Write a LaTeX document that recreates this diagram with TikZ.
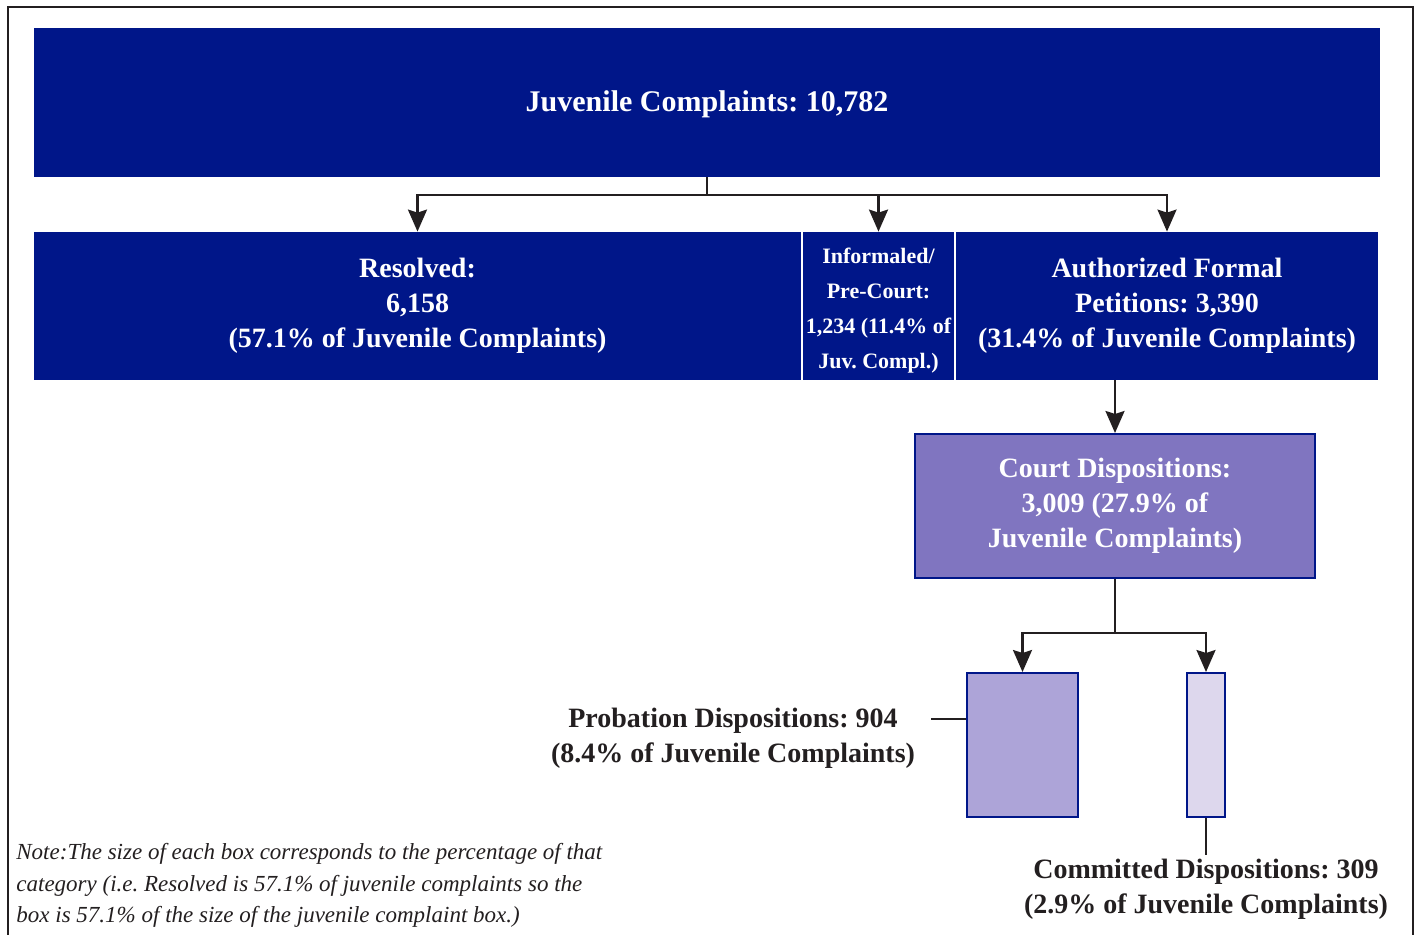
\documentclass[tikz,border=0pt]{standalone}
\usepackage{fontspec}
\setmainfont{Liberation Serif}
\usetikzlibrary{arrows.meta}
\frenchspacing

\definecolor{navy}{RGB}{0,22,137}
\definecolor{courtviolet}{RGB}{128,117,192}
\definecolor{probviolet}{RGB}{173,164,216}
\definecolor{commviolet}{RGB}{221,215,237}
\definecolor{inkgrey}{RGB}{35,31,32}

\begin{document}
\begin{tikzpicture}[x=0.5pt,y=-0.5pt,
    navybox/.style={fill=navy,text=white,inner sep=0pt,align=center,
        font=\fontsize{14}{17.5}\selectfont\bfseries},
    violetbox/.style={draw=navy,line width=1pt,inner sep=0pt,align=center,
        font=\fontsize{14}{17.5}\selectfont\bfseries},
    darklabel/.style={text=inkgrey,inner sep=2pt,align=center,
        font=\fontsize{14}{17.5}\selectfont\bfseries},
    link/.style={draw=inkgrey,line width=1.25pt},
    >={Stealth[length=11pt,width=9.5pt,inset=1.5pt]}]
    \useasboundingbox (0,0) rectangle (1419,935);
    \draw[inkgrey,line width=1.2pt] (8,7) rectangle (1413,960);

    \node[navybox,minimum width=673pt,minimum height=74.5pt,font=\fontsize{15}{18}\selectfont\bfseries] (JC) at (707,102.5) {\rule{0pt}{12.2pt}Juvenile Complaints: 10,782};

    \node[navybox,minimum width=383.5pt,minimum height=74pt] (RES) at (417.5,306) {Resolved:\\6,158\\(57.1\% of Juvenile Complaints)};
    \node[navybox,minimum width=75.5pt,minimum height=74pt,font=\fontsize{11}{17.5}\selectfont\bfseries] (INF) at (878.5,306) {\rule{0pt}{12.5pt}Informaled/\\Pre-Court:\\1,234 (11.4\% of\\Juv.\ Compl.)};
    \node[navybox,minimum width=211pt,minimum height=74pt] (AUT) at (1167,306) {Authorized Formal\\Petitions: 3,390\\(31.4\% of Juvenile Complaints)};

    \node[violetbox,fill=courtviolet,text=white,minimum width=200pt,minimum height=72pt] (CRT) at (1115,506) {Court Dispositions:\\3,009 (27.9\% of\\Juvenile Complaints)};
    \node[violetbox,fill=probviolet,minimum width=55.5pt,minimum height=72pt] (PRB) at (1022.5,745) {};
    \node[violetbox,fill=commviolet,minimum width=19pt,minimum height=72pt] (CMT) at (1206,745) {};

    \node[darklabel] (PRBL) at (733,738.5) {Probation Dispositions: 904\\(8.4\% of Juvenile Complaints)};
    \node[darklabel] (CMTL) at (1206,889.5) {Committed Dispositions: 309\\(2.9\% of Juvenile Complaints)};

    \node[text=inkgrey,inner sep=0pt,anchor=north west,align=left,font=\fontsize{11.5}{15.75}\selectfont\itshape] (NOTE) at (16,843) {Note:The size of each box corresponds to the percentage of that\\category (i.e. Resolved is 57.1\% of juvenile complaints so the\\box is 57.1\% of the size of the juvenile complaint box.)};

    % complaints split
    \coordinate (jcsplit) at (707,195);
    \draw[link] (JC.south) -- (jcsplit);
    \draw[link,->] (jcsplit) -| (RES);
    \draw[link,->] (jcsplit) -| (INF);
    \draw[link,->] (jcsplit) -| (AUT);

    \draw[link,->] (AUT.south -| CRT.north) -- (CRT.north);

    % court split
    \coordinate (crtsplit) at (1115,633);
    \draw[link] (CRT.south) -- (crtsplit);
    \draw[link,->] (crtsplit) -| (PRB);
    \draw[link,->] (crtsplit) -| (CMT);

    \coordinate (prbtick) at (931,719);
    \draw[link] (prbtick) -- (prbtick -| PRB.west);
    \draw[link] (CMT.south) -- (CMT.south |- CMTL.north);
\end{tikzpicture}
\end{document}
